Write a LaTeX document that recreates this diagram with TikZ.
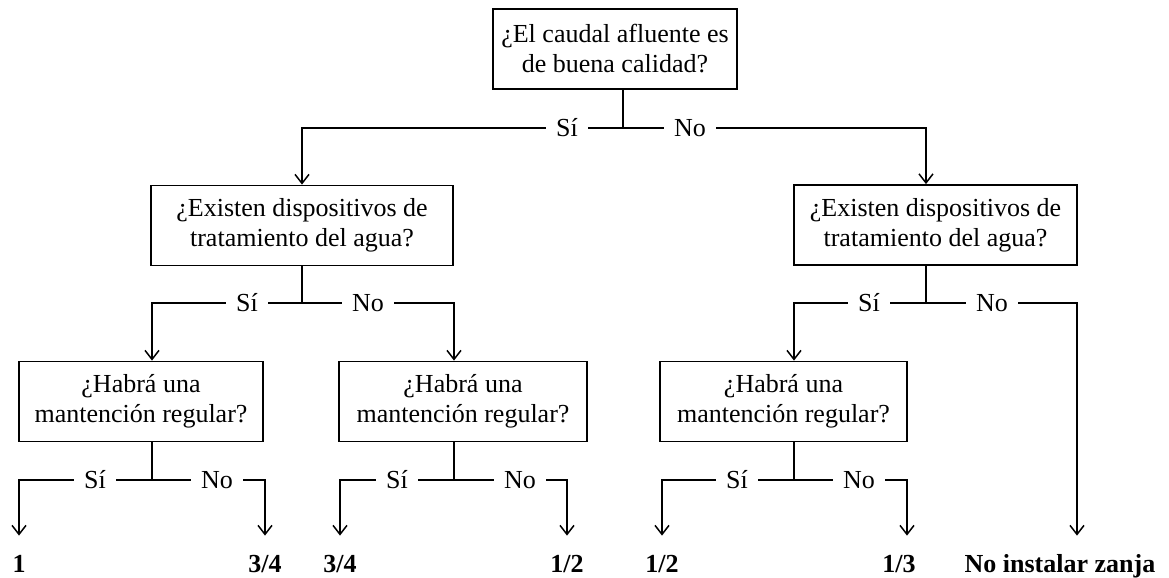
\documentclass[tikz,border=0pt]{standalone}
\usepackage{fontspec}
\setmainfont{Liberation Serif}
\usepackage{tikz}
\usetikzlibrary{shapes, arrows.meta}
\tikzstyle{question} = [rectangle, draw, line width=0.9pt, text centered, align=center, inner sep=0pt, minimum height=40pt]
\tikzstyle{answer} = [inner xsep=5pt, inner ysep=0pt]
\tikzstyle{result} = [font=\fontsize{13}{15}\selectfont\bfseries, anchor=base, text height=9pt, text depth=2pt, inner ysep=9pt]
\tikzstyle{branch} = [draw, line width=0.75pt]
\tikzstyle{connector} = [draw, line width=0.75pt, -{Straight Barb[length=4.5pt,width=7pt]}]

\begin{document}
\begin{tikzpicture}[x=0.5pt, y=-0.5pt, font=\fontsize{13}{15}\selectfont]

\useasboundingbox (0,0) rectangle (1169,578);

\node[question, minimum width=122pt] at (615,49) (inflow) {¿El caudal afluente es\\de buena calidad?};
\node[answer] at (567,128) (inflowYes) {Sí};
\node[answer] at (690,128) (inflowNo) {No};

\node[question, minimum width=151pt] at (302,225.5) (treatGood) {¿Existen dispositivos de\\tratamiento del agua?};
\node[answer] at (247,303) (treatGoodYes) {Sí};
\node[answer] at (368,303) (treatGoodNo) {No};

\node[question, minimum width=141.5pt] at (935.5,225) (treatPoor) {¿Existen dispositivos de\\tratamiento del agua?};
\node[answer] at (869,303) (treatPoorYes) {Sí};
\node[answer] at (992,303) (treatPoorNo) {No};

\node[question, minimum width=122pt] at (141,401.5) (upkeepA) {¿Habrá una\\mantención regular?};
\node[answer] at (95,480) (upkeepAYes) {Sí};
\node[answer] at (217,480) (upkeepANo) {No};

\node[question, minimum width=124pt] at (463,401.5) (upkeepB) {¿Habrá una\\mantención regular?};
\node[answer] at (397,480) (upkeepBYes) {Sí};
\node[answer] at (520,480) (upkeepBNo) {No};

\node[question, minimum width=123.5pt] at (783.5,401.5) (upkeepC) {¿Habrá una\\mantención regular?};
\node[answer] at (737,480) (upkeepCYes) {Sí};
\node[answer] at (859,480) (upkeepCNo) {No};

\node[result] at (19,572) (factorOne) {1};
\node[result] at (265,572) (factorThreeQA) {3/4};
\node[result] at (340,572) (factorThreeQB) {3/4};
\node[result] at (567,572) (factorHalfA) {1/2};
\node[result] at (662,572) (factorHalfB) {1/2};
\node[result] at (899,572) (factorThird) {1/3};
\node[result] at (1060,572) (noTrench) {No instalar zanja};

\coordinate (inflowFork) at (623,128);
\coordinate (treatGoodFork) at (302,303);
\coordinate (treatPoorFork) at (926,303);
\coordinate (upkeepAFork) at (152,480);
\coordinate (upkeepBFork) at (454,480);
\coordinate (upkeepCFork) at (794,480);
\coordinate (thirdCorner) at (907,480);
\coordinate (noTrenchCorner) at (1077,303);

\path [branch] (inflowFork |- inflow.south) -- (inflowFork);
\path [branch] (inflowFork) -- (inflowYes);
\path [branch] (inflowFork) -- (inflowNo);
\path [connector] (inflowYes) -| (treatGood);
\path [connector] (inflowNo) -| (treatPoorFork |- treatPoor.north);

\path [branch] (treatGood) -- (treatGoodFork);
\path [branch] (treatGoodFork) -- (treatGoodYes);
\path [branch] (treatGoodFork) -- (treatGoodNo);
\path [connector] (treatGoodYes) -| (upkeepAFork |- upkeepA.north);
\path [connector] (treatGoodNo) -| (upkeepBFork |- upkeepB.north);

\path [branch] (treatPoorFork |- treatPoor.south) -- (treatPoorFork);
\path [branch] (treatPoorFork) -- (treatPoorYes);
\path [branch] (treatPoorFork) -- (treatPoorNo);
\path [connector] (treatPoorYes) -| (upkeepCFork |- upkeepC.north);
\path [connector] (treatPoorNo) -- (noTrenchCorner) -- (noTrenchCorner |- noTrench.north);

\path [branch] (upkeepAFork |- upkeepA.south) -- (upkeepAFork);
\path [branch] (upkeepAFork) -- (upkeepAYes);
\path [branch] (upkeepAFork) -- (upkeepANo);
\path [connector] (upkeepAYes) -| (factorOne);
\path [connector] (upkeepANo) -| (factorThreeQA);

\path [branch] (upkeepBFork |- upkeepB.south) -- (upkeepBFork);
\path [branch] (upkeepBFork) -- (upkeepBYes);
\path [branch] (upkeepBFork) -- (upkeepBNo);
\path [connector] (upkeepBYes) -| (factorThreeQB);
\path [connector] (upkeepBNo) -| (factorHalfA);

\path [branch] (upkeepCFork |- upkeepC.south) -- (upkeepCFork);
\path [branch] (upkeepCFork) -- (upkeepCYes);
\path [branch] (upkeepCFork) -- (upkeepCNo);
\path [connector] (upkeepCYes) -| (factorHalfB);
\path [connector] (upkeepCNo) -- (thirdCorner) -- (thirdCorner |- factorThird.north);

\end{tikzpicture}
\end{document}
